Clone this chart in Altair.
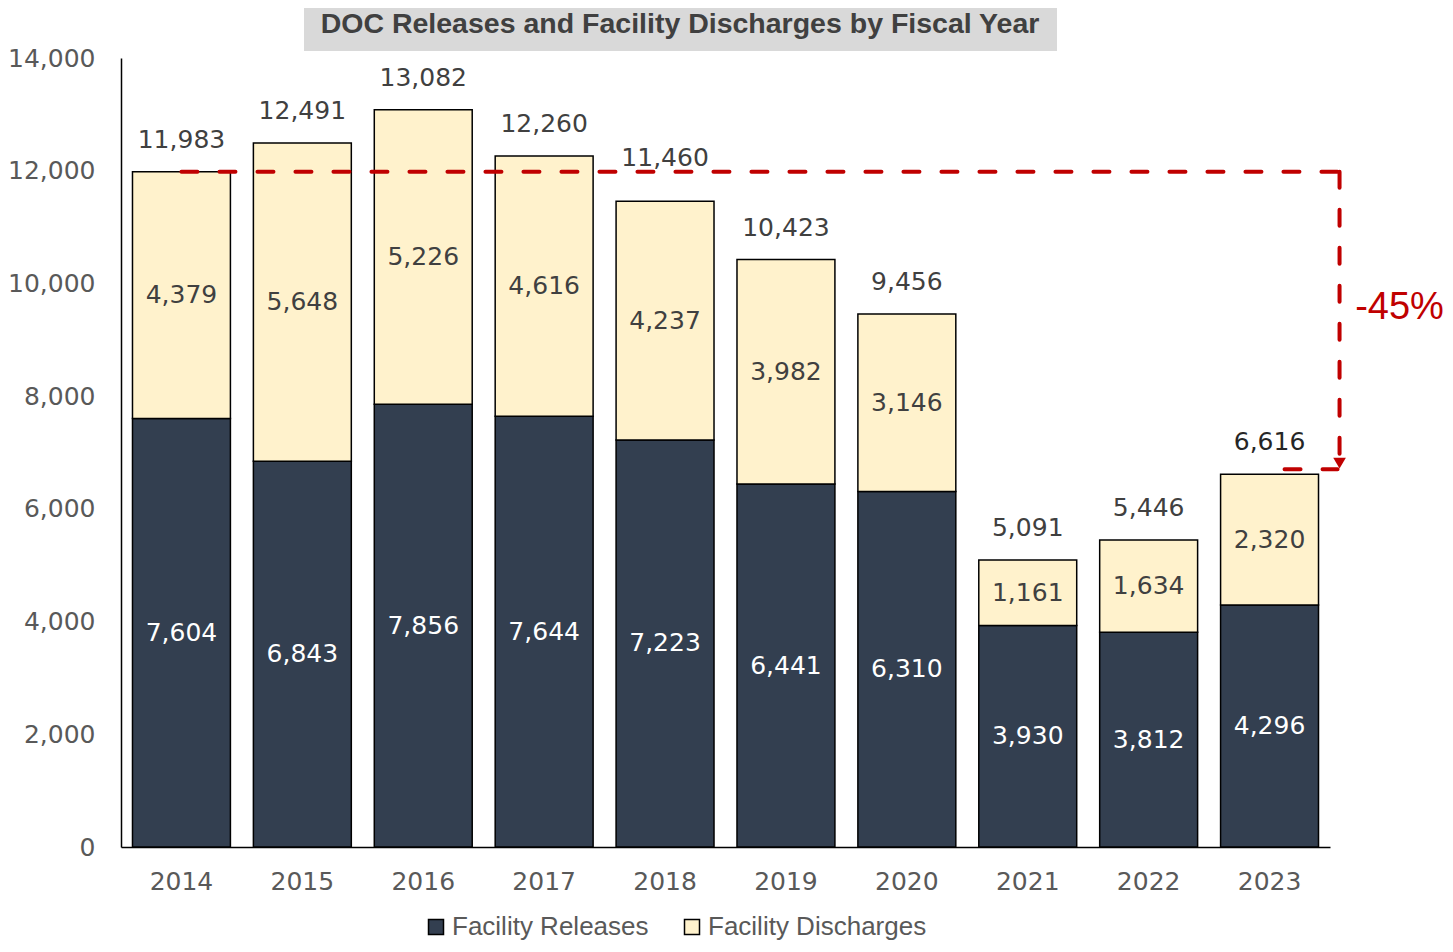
import altair as alt
import pandas as pd

# ---- data ----
years = ["2014", "2015", "2016", "2017", "2018", "2019", "2020", "2021", "2022", "2023"]
releases = [7604, 6843, 7856, 7644, 7223, 6441, 6310, 3930, 3812, 4296]
discharges = [4379, 5648, 5226, 4616, 4237, 3982, 3146, 1161, 1634, 2320]
totals = [11983, 12491, 13082, 12260, 11460, 10423, 9456, 5091, 5446, 6616]
series_names = ["Facility Releases", "Facility Discharges"]
y_ticks = [0, 2000, 4000, 6000, 8000, 10000, 12000, 14000]
title_text = "DOC Releases and Facility Discharges by Fiscal Year"

# ---- tables ----
rows = []
for i, y in enumerate(years):
    rows.append({"year": y, "series": series_names[0], "value": releases[i], "order": 0})
    rows.append({"year": y, "series": series_names[1], "value": discharges[i], "order": 1})
long_df = pd.DataFrame(rows)
tot_df = pd.DataFrame({"year": years, "value": totals})

first_year, last_year = years[0], years[-1]
first_tot, last_tot = totals[0], totals[-1]
pct = round((last_tot / first_tot - 1) * 100)
pct_label = f"{pct}%"

top_line = pd.DataFrame({"year": [first_year], "year_end": [last_year], "value": [first_tot]})
vert_line = pd.DataFrame({"year": [last_year], "value": [first_tot], "value_end": [last_tot]})
bottom_line = pd.DataFrame({"year": [last_year], "year_end": [last_year], "value": [last_tot]})
pct_df = pd.DataFrame({"year": [last_year], "value": [(first_tot + last_tot) / 2], "label": [pct_label]})
title_df = pd.DataFrame({"t": [title_text]})

NUMFONT = "DejaVu Sans"
FONT = "Liberation Sans"
RED = "#c00000"
DARK = "#333f50"
CREAM = "#fff2cc"

xscale = alt.Scale(domain=years, paddingInner=0.19, paddingOuter=0.095)
yscale = alt.Scale(domain=[0, 14000], nice=False, zero=True)

x_axis = alt.Axis(title=None, labelAngle=0, ticks=False, domainColor="black",
                  domainWidth=1.5, labelFontSize=25, labelColor="#595959",
                  labelFont=NUMFONT, labelPadding=22)
y_axis = alt.Axis(title=None, values=y_ticks, format=",.0f", grid=False, ticks=False,
                  domainColor="black", domainWidth=1.5, labelFontSize=25,
                  labelColor="#595959", labelFont=NUMFONT, labelPadding=26)


def X():
    return alt.X("year:N", scale=xscale, sort=years, axis=x_axis)


def Y(field, **kw):
    return alt.Y(field, scale=yscale, axis=y_axis, **kw)


bars = alt.Chart(long_df).mark_bar(stroke="black", strokeWidth=1.5).encode(
    x=X(),
    y=Y("value:Q", stack="zero"),
    fill=alt.Fill("series:N", scale=alt.Scale(domain=series_names, range=[DARK, CREAM]),
                  legend=alt.Legend(title=None, orient="none", legendX=302, legendY=856,
                                    direction="horizontal", symbolType="square",
                                    symbolSize=225, symbolStrokeColor="black",
                                    symbolStrokeWidth=1.5, labelFontSize=26,
                                    labelColor="#595959", labelFont=FONT, labelLimit=0,
                                    labelOffset=3, columnPadding=30)),
    order=alt.Order("order:Q"),
)

seg_labels = alt.Chart(long_df).transform_stack(
    stack="value", groupby=["year"], as_=["v0", "v1"], sort=[alt.SortField("order")]
).transform_calculate(mid="(datum.v0 + datum.v1) / 2").mark_text(
    fontSize=25, font=NUMFONT, baseline="middle"
).encode(
    x=X(),
    y=Y("mid:Q"),
    text=alt.Text("value:Q", format=","),
    color=alt.condition("datum.series == 'Facility Releases'", alt.value("white"), alt.value("#404040")),
)

tot_labels = alt.Chart(tot_df).transform_filter("datum.year != '2018'").mark_text(
    fontSize=25, font=NUMFONT, baseline="alphabetic", dy=-24
).encode(
    x=X(),
    y=Y("value:Q"),
    text=alt.Text("value:Q", format=","),
    color=alt.condition("datum.year == '2023'", alt.value("#262626"), alt.value("#404040")),
)
tot_label_2018 = alt.Chart(tot_df).transform_filter("datum.year == '2018'").mark_text(
    fontSize=25, font=NUMFONT, baseline="alphabetic", dy=-35, color="#404040"
).encode(
    x=X(),
    y=Y("value:Q"),
    text=alt.Text("value:Q", format=","),
)

dash = [16, 22]
rule_style = dict(color=RED, strokeWidth=4, strokeDash=dash, strokeCap="round")
top_rule = alt.Chart(top_line).mark_rule(x2Offset=70, **rule_style).encode(
    x=X(),
    x2="year_end:N",
    y=Y("value:Q"),
)
vert_rule = alt.Chart(vert_line).mark_rule(xOffset=70, y2Offset=-14, **rule_style).encode(
    x=X(),
    y=Y("value:Q"),
    y2="value_end:Q",
)
arrow = alt.Chart(vert_line).mark_point(shape="triangle-down", filled=True, color=RED, opacity=1,
                                        size=160, xOffset=70, yOffset=-11).encode(
    x=X(),
    y=Y("value_end:Q"),
)
bottom_rule = alt.Chart(bottom_line).mark_rule(xOffset=15, x2Offset=68, yOffset=-5, **rule_style).encode(
    x=X(),
    x2="year_end:N",
    y=Y("value:Q"),
)
pct_text = alt.Chart(pct_df).mark_text(fontSize=38, font=FONT, color=RED, align="center",
                                       baseline="middle", xOffset=130, yOffset=-15).encode(
    x=X(),
    y=Y("value:Q"),
    text="label:N",
)

title_box = alt.Chart(title_df).mark_rect(color="#d9d9d9").encode(
    x=alt.value(183), x2=alt.value(936), y=alt.value(-58), y2=alt.value(-7)
)
title_lbl = alt.Chart(title_df).mark_text(fontSize=28.5, font=FONT, fontWeight="bold",
                                          color="#404040", align="center", baseline="middle").encode(
    x=alt.value(559), y=alt.value(-34), text="t:N"
)

chart = alt.layer(
    bars, seg_labels, tot_labels, tot_label_2018, top_rule, vert_rule, arrow, bottom_rule, pct_text,
    title_box, title_lbl
).properties(
    width=1209, height=789,
    autosize=alt.AutoSizeParams(type="none"),
    padding={"left": 113, "top": 50, "right": 115, "bottom": 97},
).configure_view(stroke=None)

chart.save("out.html", embed_options={"renderer": "svg", "actions": False})
